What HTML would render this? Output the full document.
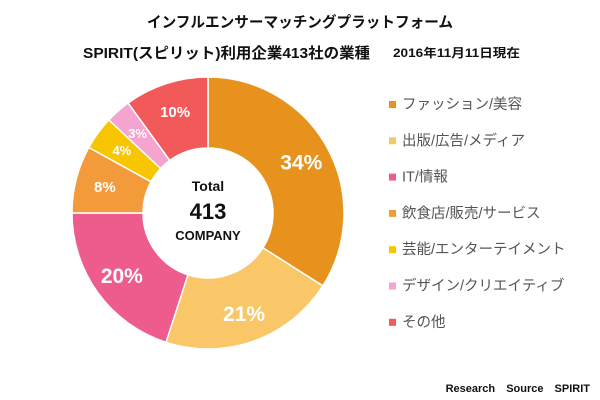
<!DOCTYPE html>
<html><head><meta charset="utf-8"><style>
body{margin:0;background:#fff;}
svg{display:block;font-family:"Liberation Sans","Noto Sans CJK JP",sans-serif;}
</style></head><body>
<svg id="c" width="600" height="400">
<text x="147" y="27" textLength="306" lengthAdjust="spacingAndGlyphs" font-size="15" font-weight="bold" fill="#111">インフルエンサーマッチングプラットフォーム</text>
<text x="83" y="58" textLength="287" lengthAdjust="spacingAndGlyphs" font-size="15" font-weight="bold" fill="#111">SPIRIT(スピリット)利用企業413社の業種</text>
<text x="393" y="57" textLength="127" lengthAdjust="spacingAndGlyphs" font-size="12" font-weight="bold" fill="#111">2016年11月11日現在</text>
<g id="slices"></g>
<text x="208" y="191" text-anchor="middle" font-size="14" font-weight="bold" fill="#111">Total</text>
<text x="208" y="219" text-anchor="middle" font-size="22" font-weight="bold" fill="#111">413</text>
<text x="208" y="240" text-anchor="middle" font-size="13" font-weight="bold" fill="#111">COMPANY</text>
<g id="legend"></g>
<text x="590" y="392" text-anchor="end" font-size="11" font-weight="bold" fill="#111" word-spacing="8">Research Source SPIRIT</text>
</svg>
<script>
const categories=["ファッション/美容","出版/広告/メディア","IT/情報","飲食店/販売/サービス","芸能/エンターテイメント","デザイン/クリエイティブ","その他"];
const values=[34,21,20,8,4,3,10];
const labels=["34%","21%","20%","8%","4%","3%","10%"];
const colors=["#E8921E","#F9C668","#EE5C8E","#F39A3A","#F7C600","#F5A3CF","#F25A5A"];
const ns="http://www.w3.org/2000/svg";
const cx=208,cy=213,R=136,r=65;
const total=values.reduce((a,b)=>a+b,0);
const g=document.getElementById("slices");
function pt(a,rad){return [cx+rad*Math.sin(a),cy-rad*Math.cos(a)];}
let acc=0;
values.forEach((v,i)=>{
  const a0=acc/total*2*Math.PI; acc+=v; const a1=acc/total*2*Math.PI;
  const large=(a1-a0)>Math.PI?1:0;
  const p0=pt(a0,R),p1=pt(a1,R),p2=pt(a1,r),p3=pt(a0,r);
  const p=document.createElementNS(ns,"path");
  p.setAttribute("d",`M${p0[0]},${p0[1]}A${R},${R} 0 ${large} 1 ${p1[0]},${p1[1]}L${p2[0]},${p2[1]}A${r},${r} 0 ${large} 0 ${p3[0]},${p3[1]}Z`);
  p.setAttribute("fill",colors[i]);p.setAttribute("stroke","#fff");p.setAttribute("stroke-width","1.5");
  
  
  g.appendChild(p);
  const am=(a0+a1)/2; const lp=pt(am,(R+r)/2+6);
  const t=document.createElementNS(ns,"text");
  const fs=v>=15?21:(v>=8?15:13);
  t.setAttribute("x",lp[0]);t.setAttribute("y",lp[1]+fs*0.36);
  t.setAttribute("text-anchor","middle");t.setAttribute("font-size",fs);t.setAttribute("font-weight","bold");t.setAttribute("fill","#fff");
  t.textContent=labels[i];
  
  
  g.appendChild(t);
});
const lg=document.getElementById("legend");
categories.forEach((c,i)=>{
  const y=104+i*36.3;
  const s=document.createElementNS(ns,"rect");
  s.setAttribute("x",389);s.setAttribute("y",y-3);s.setAttribute("width",7);s.setAttribute("height",7);s.setAttribute("fill",colors[i]);
  
  
  lg.appendChild(s);
  const t=document.createElementNS(ns,"text");
  t.setAttribute("x",402);t.setAttribute("y",y+5);t.setAttribute("font-size",14.5);t.setAttribute("fill","#555");
  t.textContent=c;
  
  
  lg.appendChild(t);
});
</script>
</body></html>
